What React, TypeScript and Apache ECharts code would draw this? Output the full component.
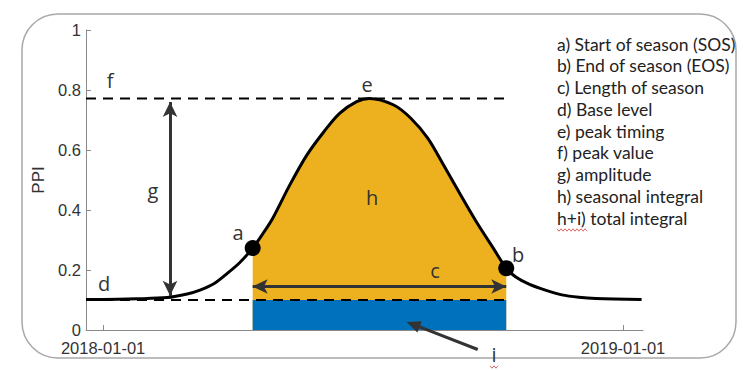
import React, { useEffect, useRef } from "react";
import * as echarts from "echarts";

// ---- data ----
const dates = [
  "2017-12-20", "2018-01-01", "2018-01-25", "2018-02-15", "2018-03-01", "2018-03-10",
  "2018-03-20", "2018-03-29", "2018-04-07", "2018-04-16", "2018-04-23", "2018-04-30",
  "2018-05-12", "2018-05-24", "2018-06-05", "2018-06-16", "2018-06-28", "2018-07-07",
  "2018-07-24", "2018-08-05", "2018-08-17", "2018-08-28", "2018-09-09", "2018-09-20",
  "2018-10-02", "2018-10-11", "2018-10-18", "2018-10-27", "2018-11-08", "2018-11-19",
  "2018-12-01", "2018-12-13", "2019-01-14",
];
const ppi = [
  0.102, 0.102, 0.104, 0.108, 0.12, 0.133,
  0.155, 0.188, 0.225, 0.273, 0.32, 0.372,
  0.483, 0.583, 0.661, 0.722, 0.761, 0.772,
  0.75, 0.706, 0.639, 0.55, 0.45, 0.361,
  0.272, 0.206, 0.176, 0.153, 0.132, 0.117,
  0.109, 0.105, 0.102,
];
const sosDate = "2018-04-16";
const eosDate = "2018-10-11";
const baseLevel = 0.1;
const peakValue = 0.772;
const amplitudeDate = "2018-02-17";
const lengthLevel = 0.145;
const xMin = "2017-12-20";
const xMax = "2019-01-15";
const xTickDates = ["2018-01-01", "2019-01-01"];
const integralArrowFrom: [string, number] = ["2018-09-21", -0.065];
const integralArrowTo: [string, number] = ["2018-08-02", 0.027];
const legendLines = [
  "a) Start of season (SOS)",
  "b) End of season (EOS)",
  "c) Length of season",
  "d) Base level",
  "e) peak timing",
  "f) peak value",
  "g) amplitude",
  "h) seasonal integral",
  "h+i) total integral",
];

const t = (s: string) => Date.UTC(+s.slice(0, 4), +s.slice(5, 7) - 1, +s.slice(8, 10));
const pad = (n: number) => (n < 10 ? "0" + n : "" + n);

export default function App() {
  const ref = useRef<HTMLDivElement>(null);
  useEffect(() => {
    document.body.style.margin = "0";
    const chart = echarts.init(ref.current!, null, { renderer: "svg" });
    const curve = dates.map((d, i) => [t(d), ppi[i]]);
    const iS = dates.indexOf(sosDate);
    const iE = dates.indexOf(eosDate);
    const season = curve.slice(iS, iE + 1);
    const txt = "#333";
    const option: any = {
      animation: false,
      grid: { left: 86, right: 100, top: 30, bottom: 40 },
      xAxis: {
        type: "value",
        min: t(xMin),
        max: t(xMax),
        axisLine: { show: true, onZero: false, lineStyle: { color: "#8a8a8a", width: 1 } },
        axisTick: { show: true, inside: true, length: 5, customValues: xTickDates.map(t), lineStyle: { color: "#8a8a8a" } },
        axisLabel: {
          customValues: xTickDates.map(t),
          color: txt,
          fontSize: 16.5,
          fontFamily: "Liberation Sans",
          margin: 9,
          formatter: (v: number) => {
            const d = new Date(v);
            return d.getUTCFullYear() + "-" + pad(d.getUTCMonth() + 1) + "-" + pad(d.getUTCDate());
          },
        },
        splitLine: { show: false },
      },
      yAxis: {
        type: "value",
        min: 0,
        max: 1,
        interval: 0.2,
        name: "PPI",
        nameLocation: "middle",
        nameGap: 39,
        nameTextStyle: { color: txt, fontSize: 17, fontFamily: "Liberation Sans" },
        axisLine: { show: true, lineStyle: { color: "#8a8a8a", width: 1 } },
        axisTick: { show: true, inside: true, length: 5, lineStyle: { color: "#8a8a8a" } },
        axisLabel: {
          color: txt,
          fontSize: 16.5,
          fontFamily: "Liberation Sans",
          margin: 5,
          formatter: (v: number) => String(+v.toFixed(1)),
        },
        splitLine: { show: false },
      },
      series: [
        {
          type: "line",
          data: season,
          smooth: 0.3,
          symbol: "none",
          lineStyle: { width: 0 },
          areaStyle: { color: "#EDB120", opacity: 1, origin: "start" },
          z: 1,
        },
        {
          type: "line",
          data: [[t(sosDate), baseLevel], [t(eosDate), baseLevel]],
          symbol: "none",
          lineStyle: { width: 0 },
          areaStyle: { color: "#0072BD", opacity: 1, origin: "start" },
          z: 2,
        },
        {
          type: "line",
          data: [[t(xMin), peakValue], [t(eosDate), peakValue]],
          symbol: "none",
          lineStyle: { color: "#000", width: 2, type: [10, 7] },
          z: 3,
        },
        {
          type: "line",
          data: [[t(xMin), baseLevel], [t(eosDate), baseLevel]],
          symbol: "none",
          lineStyle: { color: "#000", width: 2, type: [10, 7] },
          z: 3,
        },
        {
          type: "line",
          data: curve,
          smooth: 0.3,
          symbol: "none",
          lineStyle: { color: "#000", width: 3 },
          z: 5,
          markLine: {
            silent: true,
            symbol: ["arrow", "arrow"],
            symbolSize: [11, 15],
            label: { show: false },
            lineStyle: { color: "#333", width: 3, type: "solid" },
            data: [
              [{ coord: [t(amplitudeDate), peakValue - 0.012] }, { coord: [t(amplitudeDate), baseLevel + 0.014] }],
              [{ coord: [t(sosDate), lengthLevel] }, { coord: [t(eosDate), lengthLevel] }],
            ],
          },
        },
        {
          type: "scatter",
          data: [curve[iS], curve[iE]],
          symbolSize: 16,
          itemStyle: { color: "#000", opacity: 1 },
          z: 6,
        },
      ],
    };
    chart.setOption(option);

    const px = (p: [string, number]) => chart.convertToPixel({ gridIndex: 0 }, [t(p[0]), p[1]]) as number[];
    const a0 = px(integralArrowFrom);
    const a1 = px(integralArrowTo);
    const ang = Math.atan2(a1[1] - a0[1], a1[0] - a0[0]);
    const hl = 14, hw = 6;
    const bx = a1[0] - hl * Math.cos(ang), by = a1[1] - hl * Math.sin(ang);
    const nx = -Math.sin(ang), ny = Math.cos(ang);

    const letters: [string, number, number][] = [
      ["a", 238, 232], ["b", 518, 254], ["c", 435, 270], ["d", 104, 283], ["e", 367, 84],
      ["f", 110, 80], ["g", 153, 190], ["h", 372, 197], ["i", 494, 354],
    ];
    const zig = (x0: number, x1: number, y: number) => {
      const pts: number[][] = [];
      for (let x = x0, k = 0; x <= x1; x += 2, k++) pts.push([x, y + (k % 2 ? 1.2 : -1.2)]);
      return pts;
    };

    chart.setOption({
      graphic: [
        {
          type: "rect",
          z: 10,
          shape: { x: 22, y: 14, width: 714, height: 344, r: 36 },
          style: { fill: "none", stroke: "#a8a8a8", lineWidth: 1.5 },
          silent: true,
        },
        {
          type: "line",
          z: 10,
          shape: { x1: a0[0], y1: a0[1], x2: bx, y2: by },
          style: { stroke: "#333", lineWidth: 3 },
        },
        {
          type: "polygon",
          z: 10,
          shape: {
            points: [
              [a1[0], a1[1]],
              [bx + nx * hw, by + ny * hw],
              [bx - nx * hw, by - ny * hw],
            ],
          },
          style: { fill: "#333" },
        },
        ...letters.map((l) => ({
          type: "text",
          z: 10,
          x: l[1],
          y: l[2],
          style: { text: l[0], fontFamily: "Open Sans", fontSize: 20, fill: txt, align: "center", verticalAlign: "middle" },
        })),
        ...legendLines.map((s, k) => ({
          type: "text",
          z: 10,
          x: 557,
          y: 44 + k * 21.75,
          style: { text: s, fontFamily: "Lato", fontSize: 17.5, fill: "#222", verticalAlign: "middle" },
        })),
        { type: "polyline", z: 10, shape: { points: zig(557, 587, 230) }, style: { stroke: "#d04040", lineWidth: 0.8, fill: "none" } },
        { type: "polyline", z: 10, shape: { points: zig(490, 498, 367) }, style: { stroke: "#d04040", lineWidth: 0.8, fill: "none" } },
      ],
    });
    return () => chart.dispose();
  }, []);
  return <div ref={ref} style={{ width: 743, height: 370 }} />;
}
